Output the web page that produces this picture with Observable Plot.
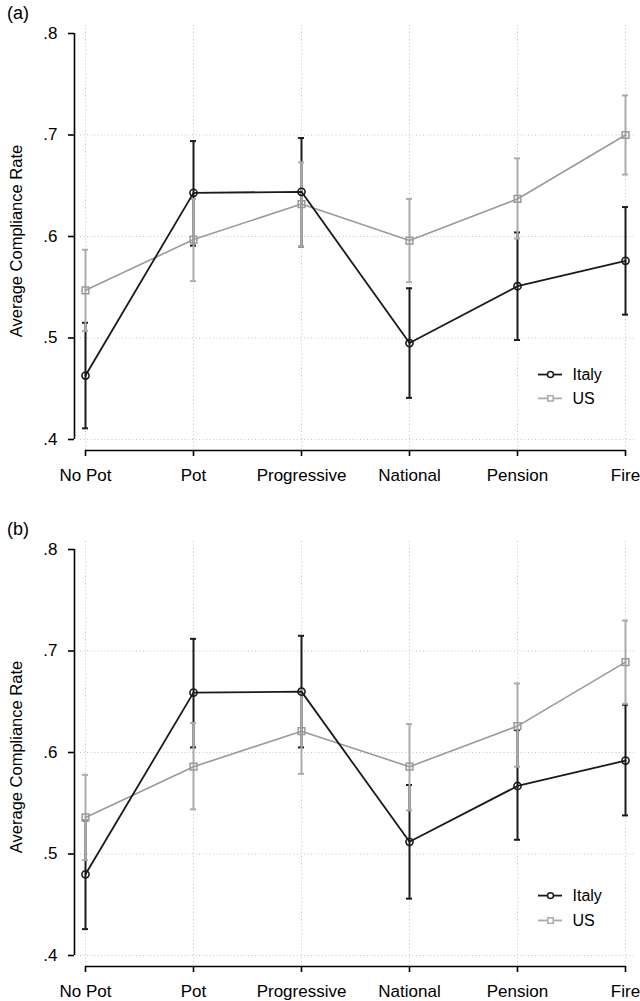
<!DOCTYPE html>
<html>
<head>
<meta charset="utf-8">
<script src="https://cdn.jsdelivr.net/npm/d3@7"></script>
<script src="https://cdn.jsdelivr.net/npm/@observablehq/plot@0.6"></script>
<style>
  html, body { margin: 0; padding: 0; background: white; }
  .panel { position: relative; width: 640px; }
  .tag { position: absolute; left: 7px; top: 4px; font: 18px "Liberation Sans", Arial, Helvetica, sans-serif; color: black; line-height: 1; }
  svg { display: block; }
</style>
</head>
<body>
<div id="chart"></div>
<script>
const categories = ["No Pot", "Pot", "Progressive", "National", "Pension", "Fire"];
const seriesNames = ["Italy", "US"];
const yTicks = [0.4, 0.5, 0.6, 0.7, 0.8];
const gridTicks = [0.4, 0.5, 0.6, 0.7];

// Panel (a)
const italyA   = [0.463, 0.643, 0.644, 0.495, 0.551, 0.576];
const italyALo = [0.411, 0.591, 0.590, 0.441, 0.498, 0.523];
const italyAHi = [0.515, 0.694, 0.697, 0.549, 0.604, 0.629];
const usA      = [0.547, 0.597, 0.632, 0.596, 0.637, 0.700];
const usALo    = [0.507, 0.556, 0.590, 0.555, 0.598, 0.661];
const usAHi    = [0.587, 0.637, 0.673, 0.637, 0.677, 0.739];

// Panel (b)
const italyB   = [0.480, 0.659, 0.660, 0.512, 0.567, 0.592];
const italyBLo = [0.426, 0.605, 0.605, 0.456, 0.514, 0.538];
const italyBHi = [0.533, 0.712, 0.715, 0.568, 0.622, 0.647];
const usB      = [0.536, 0.586, 0.621, 0.586, 0.626, 0.689];
const usBLo    = [0.494, 0.544, 0.579, 0.543, 0.586, 0.648];
const usBHi    = [0.578, 0.629, 0.662, 0.628, 0.668, 0.730];

const FONT = '"Liberation Sans", Arial, Helvetica, sans-serif';
const ITALY = "#1a1a1a";
const US_LINE = "#9a9a9a";
const US_BAR = "#ababab";

function rows(vals, lo, hi, name) {
  return categories.map((c, i) => ({cat: c, v: vals[i], lo: lo[i], hi: hi[i], series: name}));
}

function caps(data, key, stroke) {
  return Plot.ruleY(data, {x1: "cat", x2: "cat", y: key, stroke, strokeWidth: 2, insetLeft: -3, insetRight: -3});
}

function panel(tag, italy, italyLo, italyHi, us, usLo, usHi, legendY, height) {
  const it = rows(italy, italyLo, italyHi, seriesNames[0]);
  const u = rows(us, usLo, usHi, seriesNames[1]);
  const legend = seriesNames.map((n, i) => ({name: n, y: legendY[i]}));
  const axisEnds = [{a: categories[0], b: categories[categories.length - 1]}];
  const fmt = d => d3.format(".1f")(d).replace(/^0/, "");
  const plot = Plot.plot({
    width: 640,
    height,
    marginTop: 25,
    marginLeft: 74,
    marginRight: 5,
    marginBottom: height - 450,
    style: {fontFamily: FONT, fontSize: "17px", color: "black", background: "white"},
    x: {type: "point", domain: categories, range: [85, 625], padding: 0, align: 0.5},
    y: {domain: [0.4, 0.8], range: [439, 33]},
    marks: [
      Plot.ruleX(categories, {stroke: "#c4c4c4", strokeDasharray: "1,2.5", strokeWidth: 1}),
      Plot.ruleY(gridTicks, {stroke: "#c4c4c4", strokeDasharray: "1,2.5", strokeWidth: 1, insetLeft: 6}),
      Plot.ruleX(axisEnds, {x: "a", y1: () => 0.4, y2: () => 0.8, dx: -11, stroke: "black", strokeWidth: 1.6}),
      Plot.ruleY(axisEnds, {x1: "a", x2: "b", y: () => 0.4, dy: 11, stroke: "black", strokeWidth: 1.6}),
      Plot.axisY({ticks: yTicks, tickFormat: fmt, tickSize: 6, tickPadding: 11, fontSize: 17, stroke: "black", strokeWidth: 1.6, label: null}),
      Plot.axisX({tickSize: 6, tickPadding: 12, fontSize: 17, stroke: "black", strokeWidth: 1.6, label: null}),
      Plot.text(["Average Compliance Rate"], {frameAnchor: "left", textAnchor: "middle", rotate: -90, dx: -58, dy: 3, fontSize: 16.5}),
      // error bars
      Plot.ruleX(it, {x: "cat", y1: "lo", y2: "hi", stroke: ITALY, strokeWidth: 2}),
      caps(it, "lo", ITALY),
      caps(it, "hi", ITALY),
      Plot.ruleX(u, {x: "cat", y1: "lo", y2: "hi", stroke: US_BAR, strokeWidth: 2}),
      caps(u, "lo", US_BAR),
      caps(u, "hi", US_BAR),
      // lines
      Plot.line(u, {x: "cat", y: "v", stroke: US_LINE, strokeWidth: 1.6}),
      Plot.line(it, {x: "cat", y: "v", stroke: ITALY, strokeWidth: 1.8}),
      // markers
      Plot.dot(u, {x: "cat", y: "v", symbol: "square", r: 3.8, stroke: US_LINE, strokeWidth: 1.5, fill: "none"}),
      Plot.dot(it, {x: "cat", y: "v", symbol: "circle", r: 3.6, stroke: ITALY, strokeWidth: 1.6, fill: "none"}),
      // legend
      Plot.ruleY(legend, {x1: () => "Pension", x2: () => "Pension", y: "y", insetLeft: 21, insetRight: -45,
        stroke: d => d.name === "Italy" ? ITALY : US_BAR, strokeWidth: 1.8}),
      Plot.dot(legend, {x: () => "Pension", y: "y", dx: 33,
        symbol: d => d.name === "Italy" ? "circle" : "square",
        r: d => d.name === "Italy" ? 3.6 : 3.8,
        stroke: d => d.name === "Italy" ? ITALY : US_BAR, strokeWidth: 1.5, fill: "white"}),
      Plot.text(legend, {x: () => "Pension", y: "y", text: "name", dx: 55, textAnchor: "start", fontSize: 16})
    ]
  });
  const wrap = document.createElement("div");
  wrap.className = "panel";
  wrap.appendChild(plot);
  const t = document.createElement("div");
  t.className = "tag";
  t.textContent = tag;
  wrap.appendChild(t);
  return wrap;
}

const chart = document.getElementById("chart");
chart.appendChild(panel("(a)", italyA, italyALo, italyAHi, usA, usALo, usAHi, [0.464, 0.4405], 516));
chart.appendChild(panel("(b)", italyB, italyBLo, italyBHi, usB, usBLo, usBHi, [0.459, 0.4345], 485));
</script>
</body>
</html>
